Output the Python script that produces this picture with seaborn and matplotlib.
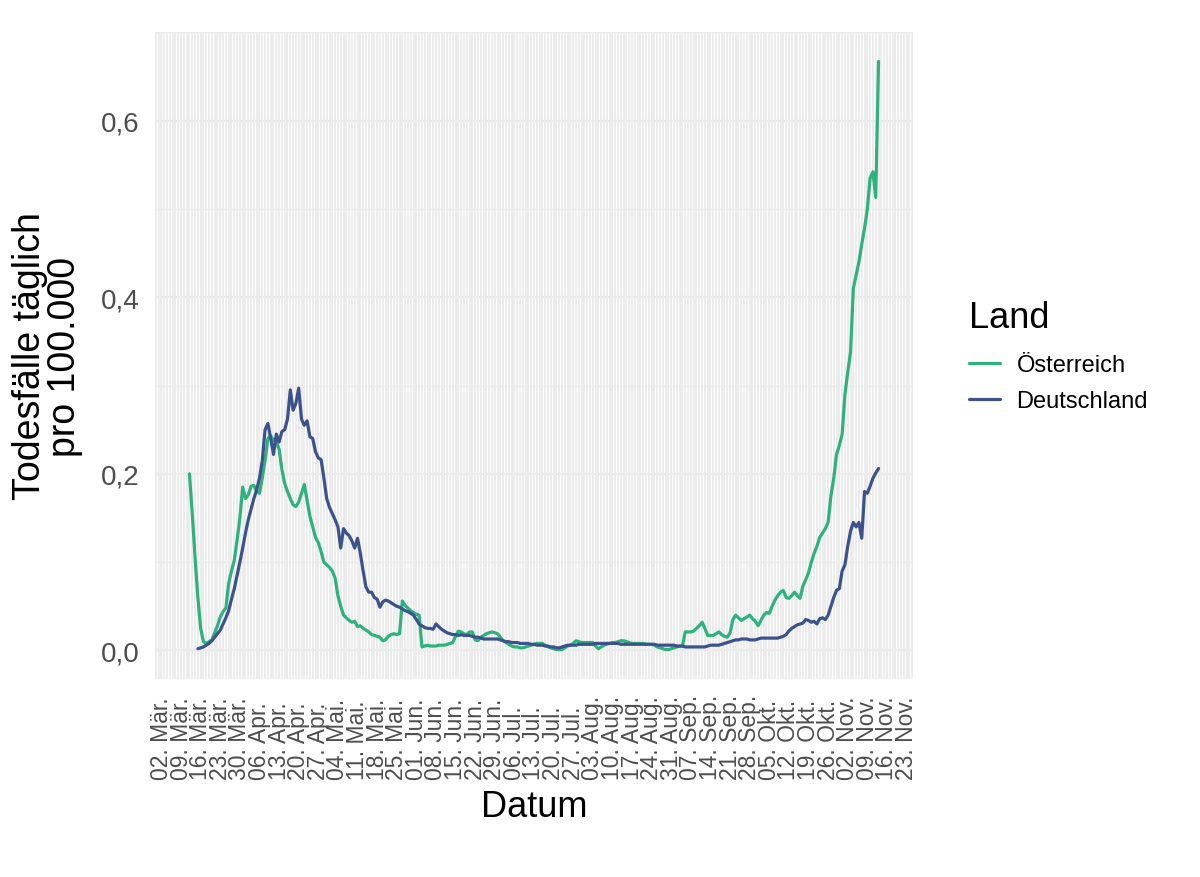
import pandas as pd
import matplotlib
matplotlib.use('Agg')
import matplotlib.pyplot as plt
import matplotlib.dates as mdates
from matplotlib.ticker import FuncFormatter, FixedLocator, MultipleLocator
from matplotlib.lines import Line2D
import seaborn as sns

# Daily deaths per 100.000 (7-day values)
at_start = '2020-03-12'
at_values = [
    0.200, 0.155, 0.105, 0.060, 0.025, 0.010, 0.008, 0.010, 0.012, 0.020,
    0.028, 0.038, 0.044, 0.048, 0.076, 0.090, 0.102, 0.125, 0.150, 0.185,
    0.172, 0.176, 0.186, 0.187, 0.180, 0.178, 0.195, 0.215, 0.240, 0.243,
    0.238, 0.236, 0.228, 0.205, 0.189, 0.180, 0.172, 0.165, 0.163, 0.168,
    0.178, 0.188, 0.170, 0.152, 0.140, 0.128, 0.122, 0.112, 0.100, 0.097,
    0.094, 0.090, 0.082, 0.062, 0.050, 0.040, 0.037, 0.034, 0.032, 0.033,
    0.027, 0.028, 0.025, 0.023, 0.021, 0.018, 0.017, 0.016, 0.015, 0.011,
    0.012, 0.016, 0.018, 0.019, 0.018, 0.019, 0.056, 0.051, 0.048, 0.045,
    0.043, 0.041, 0.040, 0.004, 0.005, 0.006, 0.005, 0.005, 0.005, 0.006,
    0.006, 0.006, 0.007, 0.008, 0.009, 0.016, 0.022, 0.021, 0.019, 0.018,
    0.021, 0.021, 0.012, 0.011, 0.015, 0.017, 0.019, 0.020, 0.021, 0.020,
    0.019, 0.015, 0.011, 0.009, 0.007, 0.005, 0.004, 0.004, 0.003, 0.003,
    0.004, 0.005, 0.006, 0.007, 0.008, 0.008, 0.008, 0.006, 0.004, 0.003,
    0.002, 0.001, 0.001, 0.001, 0.003, 0.005, 0.006, 0.008, 0.011, 0.010,
    0.009, 0.009, 0.009, 0.009, 0.009, 0.005, 0.002, 0.004, 0.006, 0.007,
    0.008, 0.009, 0.009, 0.010, 0.011, 0.011, 0.010, 0.009, 0.008, 0.008,
    0.008, 0.008, 0.008, 0.007, 0.007, 0.007, 0.006, 0.004, 0.003, 0.002,
    0.001, 0.001, 0.002, 0.003, 0.004, 0.005, 0.005, 0.021, 0.021, 0.021,
    0.022, 0.025, 0.028, 0.032, 0.025, 0.017, 0.017, 0.017, 0.019, 0.021,
    0.018, 0.016, 0.015, 0.020, 0.035, 0.040, 0.037, 0.034, 0.036, 0.038,
    0.040, 0.036, 0.033, 0.028, 0.034, 0.040, 0.043, 0.042, 0.050, 0.057,
    0.062, 0.066, 0.068, 0.060, 0.059, 0.062, 0.066, 0.062, 0.059, 0.073,
    0.080, 0.088, 0.100, 0.110, 0.118, 0.128, 0.133, 0.138, 0.145, 0.175,
    0.195, 0.222, 0.232, 0.245, 0.290, 0.315, 0.338, 0.410, 0.425, 0.440,
    0.460, 0.478, 0.500, 0.535, 0.542, 0.513, 0.667,
]

de_start = '2020-03-15'
de_values = [
    0.002, 0.003, 0.004, 0.006, 0.008, 0.011, 0.015,
    0.019, 0.023, 0.030, 0.037, 0.045, 0.058, 0.070, 0.085, 0.100, 0.116,
    0.133, 0.148, 0.160, 0.172, 0.182, 0.195, 0.215, 0.250, 0.257, 0.240,
    0.222, 0.245, 0.236, 0.248, 0.250, 0.262, 0.295, 0.272, 0.280, 0.297,
    0.262, 0.255, 0.260, 0.242, 0.240, 0.225, 0.218, 0.216, 0.195, 0.172,
    0.162, 0.155, 0.148, 0.140, 0.116, 0.138, 0.133, 0.130, 0.124, 0.116,
    0.127, 0.110, 0.090, 0.072, 0.066, 0.066, 0.060, 0.058, 0.049, 0.055,
    0.057, 0.056, 0.054, 0.052, 0.050, 0.049, 0.047, 0.045, 0.044, 0.042,
    0.040, 0.035, 0.030, 0.028, 0.026, 0.025, 0.025, 0.024, 0.030, 0.027,
    0.024, 0.022, 0.020, 0.019, 0.018, 0.018, 0.017, 0.018, 0.017, 0.017,
    0.017, 0.016, 0.015, 0.015, 0.014, 0.013, 0.013, 0.013, 0.013, 0.013,
    0.013, 0.012, 0.011, 0.010, 0.010, 0.009, 0.009, 0.009, 0.008, 0.008,
    0.008, 0.008, 0.007, 0.007, 0.006, 0.006, 0.006, 0.005, 0.005, 0.004,
    0.004, 0.003, 0.003, 0.004, 0.005, 0.006, 0.006, 0.006, 0.006, 0.007,
    0.007, 0.007, 0.007, 0.007, 0.007, 0.008, 0.008, 0.008, 0.008, 0.008,
    0.008, 0.008, 0.008, 0.008, 0.007, 0.007, 0.007, 0.007, 0.007, 0.007,
    0.007, 0.007, 0.007, 0.007, 0.007, 0.007, 0.007, 0.006, 0.006, 0.006,
    0.006, 0.006, 0.006, 0.006, 0.005, 0.005, 0.005, 0.004, 0.004, 0.004,
    0.004, 0.004, 0.004, 0.004, 0.004, 0.005, 0.006, 0.006, 0.006, 0.006,
    0.007, 0.008, 0.009, 0.010, 0.011, 0.012, 0.012, 0.013, 0.013, 0.013,
    0.012, 0.012, 0.012, 0.013, 0.014, 0.014, 0.014, 0.014, 0.014, 0.014,
    0.014, 0.015, 0.016, 0.018, 0.022, 0.025, 0.027, 0.029, 0.030, 0.031,
    0.035, 0.034, 0.032, 0.033, 0.030, 0.036, 0.037, 0.035, 0.040, 0.050,
    0.060, 0.068, 0.070, 0.090, 0.097, 0.118, 0.135, 0.145, 0.140, 0.145,
    0.127, 0.180, 0.178, 0.186, 0.195, 0.201, 0.206,
]

countries = ['Österreich', 'Deutschland']
colors = ['#2DB27D', '#3B528B']
tick_start, tick_end = '2020-03-02', '2020-11-23'
month_names = {3: 'Mär', 4: 'Apr', 5: 'Mai', 6: 'Jun', 7: 'Jul', 8: 'Aug',
               9: 'Sep', 10: 'Okt', 11: 'Nov'}

df = pd.concat([
    pd.DataFrame({'Datum': pd.date_range(at_start, periods=len(at_values), freq='D'),
                  'Wert': at_values, 'Land': countries[0]}),
    pd.DataFrame({'Datum': pd.date_range(de_start, periods=len(de_values), freq='D'),
                  'Wert': de_values, 'Land': countries[1]}),
], ignore_index=True)

sns.set_style('white')
plt.rcParams['font.family'] = ['Liberation Sans', 'DejaVu Sans']

fig = plt.figure(figsize=(12, 8.78), dpi=100)
ax = fig.add_axes([155 / 1200, 1 - 680 / 878, 758 / 1200, 647 / 878])

palette = dict(zip(countries, colors))
sns.lineplot(data=df, x='Datum', y='Wert', hue='Land', hue_order=countries,
             palette=palette, linewidth=2.3, ax=ax, legend=False)

# grid like ggplot theme_minimal, with daily minor lines
week_ticks = pd.date_range(tick_start, tick_end, freq='7D')
ax.xaxis.set_major_locator(FixedLocator(mdates.date2num(week_ticks)))
ax.xaxis.set_minor_locator(mdates.DayLocator())
ax.set_xticklabels([f"{d.day:02d}. {month_names[d.month]}." for d in week_ticks])
ax.yaxis.set_major_locator(MultipleLocator(0.2))
ax.yaxis.set_minor_locator(MultipleLocator(0.1))
ax.yaxis.set_major_formatter(FuncFormatter(lambda v, p: f"{v:.1f}".replace('.', ',')))

ax.set_axisbelow(True)
ax.grid(which='major', axis='both', color='#EBEBEB', linewidth=1.6)
ax.grid(which='minor', axis='x', color='#EBEBEB', linewidth=1.3)
ax.grid(which='minor', axis='y', color='#EBEBEB', linewidth=0.9)
for s in ax.spines.values():
    s.set_visible(False)

ax.tick_params(axis='both', which='both', length=0, labelcolor='#4D4D4D')
ax.tick_params(axis='y', labelsize=20, pad=11)
ax.tick_params(axis='x', labelsize=16.5, pad=72, rotation=90)
for lab in ax.get_xticklabels():
    lab.set_va('bottom')

ax.set_xlabel('Datum', fontsize=26, color='black')
ax.xaxis.set_label_coords(0.5, -0.17)
ax.set_ylabel('Todesfälle täglich\npro 100.000', fontsize=27, linespacing=0.95,
              color='black')
ax.yaxis.set_label_coords(-0.095, 0.5)

handles = [Line2D([], [], color=c, linewidth=2.3) for c in colors]
leg = fig.legend(handles, countries, title='Land', loc='center left',
                 bbox_to_anchor=(948 / 1200, 1 - 357 / 878), frameon=False,
                 fontsize=17, title_fontsize=26, handlelength=1.3,
                 handletextpad=0.7, labelspacing=0.6, alignment='left')
leg.get_title().set_color('black')
leg._legend_box.sep = 14
for t in leg.get_texts():
    t.set_color('black')

fig.savefig('out.png', dpi=100)
